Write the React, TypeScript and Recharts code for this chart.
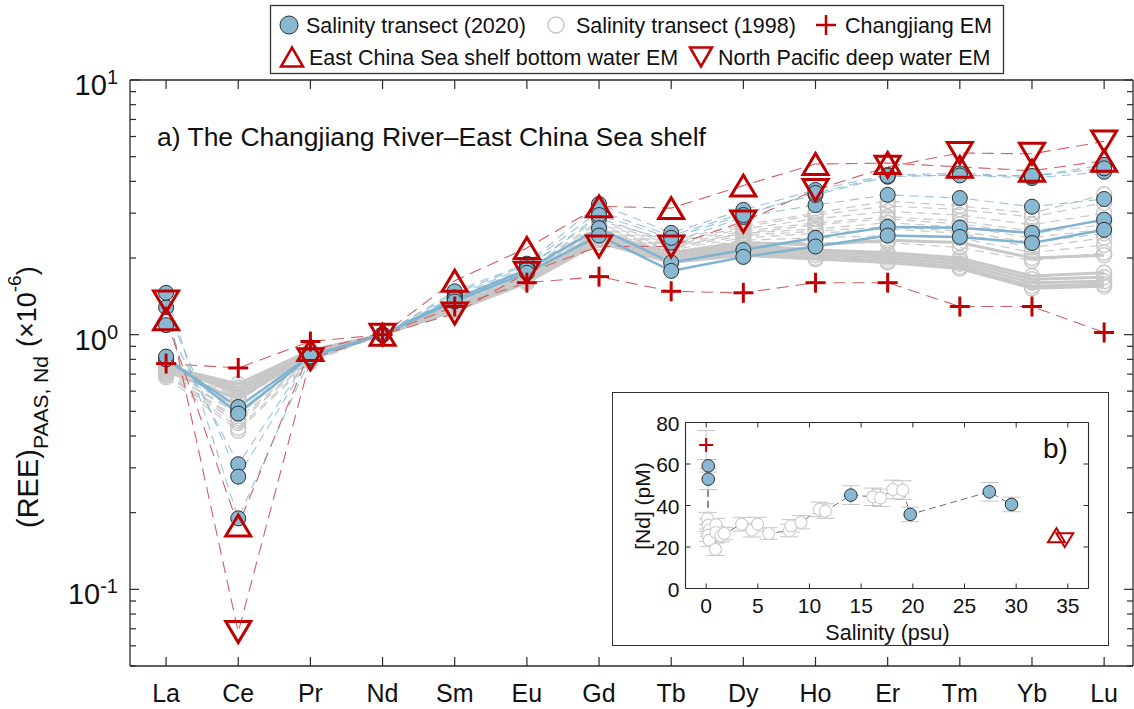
import React from 'react';
import { ComposedChart, Line, Scatter, XAxis, YAxis, ErrorBar } from 'recharts';

const FONT = '"Liberation Sans", Arial, Helvetica, sans-serif';
const AX = '#2a2a2a';
const RED = '#c00000';
const RED_LINE = '#d06060';
const BLUE_FILL = '#88b8d2';
const BLUE_LINE = '#7fb3d0';
const GRAY = '#c8c8c8';

// ---------- panel a: PAAS-normalised REE patterns (normalised to Nd) ----------
const elements = ['La', 'Ce', 'Pr', 'Nd', 'Sm', 'Eu', 'Gd', 'Tb', 'Dy', 'Ho', 'Er', 'Tm', 'Yb', 'Lu'];
const elementTicks = [1, 2, 3, 4, 5, 6, 7, 8, 9, 10, 11, 12, 13, 14];

// end-members
const changjiangEM = [0.77, 0.74, 0.94, 1, 1.29, 1.6, 1.69, 1.48, 1.46, 1.6, 1.6, 1.29, 1.29, 1.02];
const ecsBottomEM = [1.15, 0.178, 0.87, 1, 1.63, 2.19, 3.19, 3.14, 3.85, 4.68, 4.72, 4.56, 4.4, 4.82];
const npDeepEM = [1.35, 0.068, 0.8, 1, 1.21, 1.75, 2.22, 2.22, 2.78, 3.7, 4.56, 5.17, 5.13, 5.74];

// 2020 salinity transect (solid = low-salinity stations, dashed = shelf stations)
const t2020Solid = [
  [0.8, 0.52, 0.83, 1, 1.38, 1.8, 2.62, 1.92, 2.15, 2.4, 2.65, 2.63, 2.51, 2.83],
  [0.82, 0.49, 0.82, 1, 1.35, 1.75, 2.45, 1.78, 2.02, 2.22, 2.45, 2.42, 2.29, 2.58],
];
const t2020Dashed = [
  [1.09, 0.31, 0.83, 1, 1.42, 1.85, 2.87, 2.3, 2.9, 3.23, 3.54, 3.44, 3.18, 3.41],
  [1.28, 0.277, 0.82, 1, 1.45, 1.88, 3.05, 2.45, 3.0, 3.54, 4.17, 4.24, 4.12, 4.36],
  [1.46, 0.19, 0.81, 1, 1.48, 1.9, 3.26, 2.51, 3.09, 3.7, 4.24, 4.3, 4.18, 4.64],
  [0.8, 0.5, 0.82, 1, 1.4, 1.82, 2.95, 2.4, 2.95, 3.6, 4.2, 4.22, 4.2, 4.5],
];

// 1998 salinity transect
const t1998Solid = [
  [0.76, 0.62, 0.86, 1, 1.25, 1.62, 2.35, 1.95, 2.1, 2.0, 1.95, 1.85, 1.55, 1.58],
  [0.74, 0.6, 0.85, 1, 1.27, 1.65, 2.4, 2.0, 2.15, 2.05, 2.0, 1.9, 1.6, 1.62],
  [0.75, 0.64, 0.87, 1, 1.24, 1.6, 2.3, 1.92, 2.05, 1.98, 1.92, 1.82, 1.52, 1.55],
  [0.77, 0.58, 0.84, 1, 1.28, 1.66, 2.45, 2.02, 2.2, 2.1, 2.05, 1.95, 1.65, 1.68],
  [0.73, 0.61, 0.85, 1, 1.26, 1.64, 2.38, 2.05, 2.25, 2.15, 2.1, 2.0, 1.7, 1.75],
  [0.72, 0.56, 0.83, 1, 1.3, 1.7, 2.5, 2.1, 2.3, 2.25, 2.35, 2.3, 2.0, 2.05],
];
const t1998Dashed = [
  [0.72, 0.52, 0.82, 1, 1.3, 1.7, 2.55, 2.15, 2.4, 2.5, 2.6, 2.5, 2.2, 2.4],
  [0.71, 0.5, 0.81, 1, 1.32, 1.72, 2.6, 2.2, 2.5, 2.6, 2.75, 2.65, 2.4, 2.6],
  [0.7, 0.47, 0.8, 1, 1.33, 1.75, 2.65, 2.25, 2.55, 2.75, 2.9, 2.8, 2.55, 2.8],
  [0.69, 0.45, 0.8, 1, 1.35, 1.75, 2.7, 2.28, 2.6, 2.85, 3.05, 2.95, 2.7, 3.0],
  [0.7, 0.43, 0.79, 1, 1.36, 1.78, 2.75, 2.3, 2.65, 2.95, 3.2, 3.1, 2.9, 3.3],
  [0.68, 0.42, 0.78, 1, 1.38, 1.8, 2.8, 2.35, 2.7, 3.0, 3.35, 3.2, 3.0, 3.55],
  [0.73, 0.55, 0.83, 1, 1.29, 1.68, 2.5, 2.1, 2.35, 2.4, 2.45, 2.4, 2.1, 2.25],
  [0.74, 0.57, 0.84, 1, 1.28, 1.66, 2.45, 2.08, 2.3, 2.3, 2.3, 2.2, 1.95, 2.1],
  [0.71, 0.49, 0.8, 1, 1.31, 1.7, 2.55, 2.18, 2.45, 2.55, 2.65, 2.55, 2.3, 2.5],
  [0.7, 0.46, 0.79, 1, 1.34, 1.74, 2.62, 2.22, 2.5, 2.7, 2.85, 2.72, 2.5, 2.7],
];

const logTicks = [
  0.05, 0.06, 0.07, 0.08, 0.09,
  0.1, 0.2, 0.3, 0.4, 0.5, 0.6, 0.7, 0.8, 0.9,
  1, 2, 3, 4, 5, 6, 7, 8, 9, 10,
];
const majorTicks = [0.1, 1, 10];
const majorLabels = ['-1', '0', '1'];

// ---------- panel b: dissolved Nd vs salinity ----------
const nd1998Sal = [0.13, 0.2, 0.3, 0.2, 0.3, 0.94, 0.94, 0.9, 1.42, 1.75, 3.43, 4.43, 4.98, 6.05, 8.05, 8.2, 9.18, 10.96, 11.54, 16.13, 16.87, 18.07, 19.03];
const nd1998Val = [33.7, 30.5, 28.1, 25.7, 23.3, 30.8, 27.0, 18.9, 25.4, 26.5, 31.0, 28.1, 31.0, 26.5, 27.9, 30.2, 31.9, 38.1, 37.3, 44.2, 43.7, 47.7, 47.4];
const nd1998Err = [3, 3, 3, 3, 3, 3, 3, 3, 3, 3, 3.3, 3.3, 3.3, 2.8, 3, 3, 3.2, 3.5, 3.5, 4.2, 4.2, 4.5, 4.5];
const nd2020Sal = [0.2, 0.2, 14.0, 19.75, 27.4, 29.55];
const nd2020Val = [59.1, 52.7, 45.0, 35.7, 46.6, 40.5];
const nd2020Err = [3, 5, 4.5, 3.5, 4.5, 3.5];
const ndChangjiang = { s: 0, nd: 69.1, err: 7 };
const ndEcsBottom = { s: 33.9, nd: 25.7, err: 0 };
const ndNpDeep = { s: 34.7, nd: 23.3, err: 0 };

const salTicks = [0, 5, 10, 15, 20, 25, 30, 35];
const ndTicks = [0, 20, 40, 60, 80];

// ---------- table for panel a ----------
const rows = elements.map((el, i) => {
  const r: Record<string, number | string> = { x: elementTicks[i], el };
  t1998Solid.forEach((s, k) => { r[`gs${k}`] = s[i]; });
  t1998Dashed.forEach((s, k) => { r[`gd${k}`] = s[i]; });
  t2020Solid.forEach((s, k) => { r[`bs${k}`] = s[i]; });
  t2020Dashed.forEach((s, k) => { r[`bd${k}`] = s[i]; });
  r.cj = changjiangEM[i];
  r.ecs = ecsBottomEM[i];
  r.npdw = npDeepEM[i];
  return r;
});

// ---------- tables for panel b ----------
const in1998 = nd1998Sal.map((s, i) => ({ s, nd: nd1998Val[i], err: nd1998Err[i] }));
const in2020 = nd2020Sal.map((s, i) => ({ s, nd: nd2020Val[i], err: nd2020Err[i] }));
const inTrend = [...in2020, ...in1998].sort((a, b) => a.s - b.s || b.nd - a.nd);

// ---------- marker shapes ----------
const triUp = (cx: number, cy: number, w: number, h: number) =>
  `${cx - w / 2},${cy + h / 2} ${cx + w / 2},${cy + h / 2} ${cx},${cy - h / 2}`;
const triDown = (cx: number, cy: number, w: number, h: number) =>
  `${cx - w / 2},${cy - h / 2} ${cx + w / 2},${cy - h / 2} ${cx},${cy + h / 2}`;

const BlueDot = (r: number) => (p: any) =>
  p.cx == null ? <g key={`b-${p.dataKey}-${p.index}`} /> : (
    <circle key={`b-${p.dataKey}-${p.index}`} cx={p.cx} cy={p.cy} r={r} fill={BLUE_FILL} stroke="#2e2e2e" strokeWidth={1} />
  );
const GrayDot = (r: number) => (p: any) =>
  p.cx == null ? <g key={`g-${p.dataKey}-${p.index}`} /> : (
    <circle key={`g-${p.dataKey}-${p.index}`} cx={p.cx} cy={p.cy} r={r} fill="none" stroke={GRAY} strokeWidth={1.4} />
  );
const WhiteDot = (r: number) => (p: any) =>
  p.cx == null ? <g /> : <circle cx={p.cx} cy={p.cy} r={r} fill="#fff" stroke="#cfcfcf" strokeWidth={1.2} />;
const PlusDot = (s: number, w: number) => (p: any) =>
  p.cx == null ? <g key={`p-${p.index}`} /> : (
    <g key={`p-${p.dataKey}-${p.index}`}>
      <line x1={p.cx - s} x2={p.cx + s} y1={p.cy} y2={p.cy} stroke={RED} strokeWidth={w} />
      <line x1={p.cx} x2={p.cx} y1={p.cy - s} y2={p.cy + s} stroke={RED} strokeWidth={w} />
    </g>
  );
const UpDot = (w: number, h: number, sw: number) => (p: any) =>
  p.cx == null ? <g key={`u-${p.index}`} /> : (
    <polygon key={`u-${p.dataKey}-${p.index}`} points={triUp(p.cx, p.cy, w, h)} fill="none" stroke={RED} strokeWidth={sw} strokeLinejoin="miter" />
  );
const DownDot = (w: number, h: number, sw: number) => (p: any) =>
  p.cx == null ? <g key={`d-${p.index}`} /> : (
    <polygon key={`d-${p.dataKey}-${p.index}`} points={triDown(p.cx, p.cy, w, h)} fill="none" stroke={RED} strokeWidth={sw} strokeLinejoin="miter" />
  );

// ---------- axis ticks ----------
const isMajor = (v: number) => majorTicks.findIndex((m) => Math.abs(m - v) < 1e-9);

const ElementTick = (p: any) => (
  <g>
    <line x1={p.x} x2={p.x} y1={p.y} y2={p.y - 9} stroke={AX} strokeWidth={1.2} />
    <text x={p.x} y={p.y + 36} textAnchor="middle" fontSize={25} fontFamily={FONT} fill="#111">
      {elements[p.payload.value - 1]}
    </text>
  </g>
);
const TopTick = (p: any) => <line x1={p.x} x2={p.x} y1={p.y} y2={p.y + 9} stroke={AX} strokeWidth={1.2} />;
const LogTickLeft = (p: any) => {
  const m = isMajor(p.payload.value);
  return (
    <g>
      <line x1={p.x} x2={p.x + (m >= 0 ? 9 : 6)} y1={p.y} y2={p.y} stroke={AX} strokeWidth={1.2} />
      {m >= 0 && (
        <text x={p.x - 12} y={p.y + 15} textAnchor="end" fontSize={29} fontFamily={FONT} fill="#111">
          10<tspan fontSize={20} dy={-11}>{majorLabels[m]}</tspan>
        </text>
      )}
    </g>
  );
};
const LogTickRight = (p: any) => {
  const m = isMajor(p.payload.value);
  return <line x1={p.x} x2={p.x - (m >= 0 ? 9 : 6)} y1={p.y} y2={p.y} stroke={AX} strokeWidth={1.2} />;
};

const SalTick = (p: any) => (
  <g>
    <line x1={p.x} x2={p.x} y1={p.y} y2={p.y - 5} stroke={AX} strokeWidth={1} />
    <text x={p.x} y={p.y + 24} textAnchor="middle" fontSize={21} fontFamily={FONT} fill="#111">{p.payload.value}</text>
  </g>
);
const SalTopTick = (p: any) => <line x1={p.x} x2={p.x} y1={p.y} y2={p.y + 5} stroke={AX} strokeWidth={1} />;
const NdTick = (p: any) => (
  <g>
    <line x1={p.x} x2={p.x + 5} y1={p.y} y2={p.y} stroke={AX} strokeWidth={1} />
    <text x={p.x - 6} y={p.y + 8} textAnchor="end" fontSize={21} fontFamily={FONT} fill="#111">{p.payload.value}</text>
  </g>
);
const NdRightTick = (p: any) => <line x1={p.x} x2={p.x - 5} y1={p.y} y2={p.y} stroke={AX} strokeWidth={1} />;

const axisLine = { stroke: AX, strokeWidth: 1.3 };

export default function App() {
  return (
    <div style={{ position: 'absolute', left: 0, top: 0, width: 1134, height: 709, overflow: 'hidden', background: '#fff' }}>
      {/* panel a */}
      <div style={{ position: 'absolute', left: 0, top: 0 }}>
        <ComposedChart width={1134} height={709} data={rows} margin={{ top: 79, right: 0, bottom: 3, left: 70 }}>
          <XAxis dataKey="x" type="number" domain={[0.5, 14.4]} ticks={elementTicks} interval={0} allowDataOverflow
            tickSize={0} tickMargin={0} tickLine={false} axisLine={axisLine} height={40} tick={<ElementTick />} />
          <XAxis xAxisId="top" orientation="top" dataKey="x" type="number" domain={[0.5, 14.4]} ticks={elementTicks} interval={0}
            allowDataOverflow tickSize={0} tickMargin={0} tickLine={false} axisLine={axisLine} height={1} tick={<TopTick />} />
          <YAxis type="number" scale="log" domain={[0.05, 10]} ticks={logTicks} interval={0} allowDataOverflow
            tickSize={0} tickMargin={0} tickLine={false} axisLine={axisLine} width={60} tick={<LogTickLeft />} />
          <YAxis yAxisId="right" orientation="right" type="number" scale="log" domain={[0.05, 10]} ticks={logTicks} interval={0}
            allowDataOverflow tickSize={0} tickMargin={0} tickLine={false} axisLine={axisLine} width={1} tick={<LogTickRight />} />

          {t1998Dashed.map((_, k) => (
            <Line key={`gd${k}`} dataKey={`gd${k}`} type="linear" stroke={GRAY} strokeWidth={1.2} strokeDasharray="9 6"
              dot={GrayDot(7.5)} activeDot={false} isAnimationActive={false} />
          ))}
          {t1998Solid.map((_, k) => (
            <Line key={`gs${k}`} dataKey={`gs${k}`} type="linear" stroke={GRAY} strokeWidth={3} dot={GrayDot(7.5)}
              activeDot={false} isAnimationActive={false} />
          ))}

          {/* end-member mixing envelopes */}
          {['cj', 'ecs', 'npdw'].map((k) => (
            <Line key={`l-${k}`} dataKey={k} type="linear" stroke={RED_LINE} strokeWidth={1.1} strokeDasharray="12 7"
              dot={false} activeDot={false} isAnimationActive={false} />
          ))}

          {t2020Dashed.map((_, k) => (
            <Line key={`bd${k}`} dataKey={`bd${k}`} type="linear" stroke={BLUE_LINE} strokeOpacity={0.8} strokeWidth={1.1}
              strokeDasharray="9 6" dot={BlueDot(7.5)} activeDot={false} isAnimationActive={false} />
          ))}
          {t2020Solid.map((_, k) => (
            <Line key={`bs${k}`} dataKey={`bs${k}`} type="linear" stroke={BLUE_LINE} strokeWidth={2.5} dot={BlueDot(7.5)}
              activeDot={false} isAnimationActive={false} />
          ))}

          <Line dataKey="cj" stroke="none" dot={PlusDot(10, 3)} activeDot={false} isAnimationActive={false} />
          <Line dataKey="ecs" stroke="none" dot={UpDot(25, 21, 3)} activeDot={false} isAnimationActive={false} />
          <Line dataKey="npdw" stroke="none" dot={DownDot(25, 21, 3)} activeDot={false} isAnimationActive={false} />
        </ComposedChart>
      </div>

      {/* panel b */}
      <div style={{ position: 'absolute', left: 612, top: 392, width: 495, height: 252, border: '1.5px solid #333', background: '#fff' }}>
        <ComposedChart width={495} height={252} margin={{ top: 28.5, right: 18.5, bottom: 26.5, left: 32.5 }}>
          <XAxis dataKey="s" type="number" domain={[-2, 37]} ticks={salTicks} interval={0} allowDataOverflow
            tickSize={0} tickMargin={0} tickLine={false} axisLine={{ stroke: AX, strokeWidth: 1.1 }} height={30} tick={<SalTick />} />
          <XAxis xAxisId="top" orientation="top" dataKey="s" type="number" domain={[-2, 37]} ticks={salTicks} interval={0}
            allowDataOverflow tickSize={0} tickMargin={0} tickLine={false} axisLine={{ stroke: AX, strokeWidth: 1.1 }} height={1} tick={<SalTopTick />} />
          <YAxis dataKey="nd" type="number" domain={[0, 80]} ticks={ndTicks} interval={0} allowDataOverflow
            tickSize={0} tickMargin={0} tickLine={false} axisLine={{ stroke: AX, strokeWidth: 1.1 }} width={40} tick={<NdTick />} />
          <YAxis yAxisId="right" orientation="right" dataKey="nd" type="number" domain={[0, 80]} ticks={ndTicks} interval={0}
            allowDataOverflow tickSize={0} tickMargin={0} tickLine={false} axisLine={{ stroke: AX, strokeWidth: 1.1 }} width={1} tick={<NdRightTick />} />

          <Line data={inTrend} dataKey="nd" type="linear" stroke="#707070" strokeWidth={1} strokeDasharray="7 4"
            dot={false} activeDot={false} isAnimationActive={false} />
          <Scatter data={in1998} dataKey="nd" shape={WhiteDot(6)} isAnimationActive={false}>
            <ErrorBar dataKey="err" direction="y" width={9} stroke="#c4c4c4" strokeWidth={1} />
          </Scatter>
          <Scatter data={in2020} dataKey="nd" shape={(p: any) => <circle cx={p.cx} cy={p.cy} r={6.3} fill={BLUE_FILL} stroke="#2e2e2e" strokeWidth={1} />} isAnimationActive={false}>
            <ErrorBar dataKey="err" direction="y" width={9} stroke="#c4c4c4" strokeWidth={1} />
          </Scatter>
          <Scatter data={[ndChangjiang]} dataKey="nd" shape={(p: any) => PlusDot(7, 2)(p)} isAnimationActive={false}>
            <ErrorBar dataKey="err" direction="y" width={9} stroke="#c4c4c4" strokeWidth={1} />
          </Scatter>
          <Scatter data={[ndEcsBottom]} dataKey="nd" shape={(p: any) => UpDot(17, 14, 2)(p)} isAnimationActive={false} />
          <Scatter data={[ndNpDeep]} dataKey="nd" shape={(p: any) => DownDot(17, 14, 2)(p)} isAnimationActive={false} />
        </ComposedChart>
      </div>

      {/* text layer: legend, panel titles and axis titles */}
      <svg width={1134} height={709} style={{ position: 'absolute', left: 0, top: 0, pointerEvents: 'none' }} fontFamily={FONT}>
        <rect x={270.5} y={5.5} width={733} height={68} fill="#fff" stroke="#333" strokeWidth={1.3} />
        <circle cx={289} cy={25} r={9} fill={BLUE_FILL} stroke="#2e2e2e" strokeWidth={1} />
        <text x={306} y={32.5} fontSize={21.5} fill="#111">Salinity transect (2020)</text>
        <circle cx={556} cy={25} r={8} fill="#fff" stroke="#c8c8c8" strokeWidth={1.5} />
        <text x={576} y={32.5} fontSize={21.5} fill="#111">Salinity transect (1998)</text>
        <line x1={816} x2={836} y1={25} y2={25} stroke={RED} strokeWidth={2.5} />
        <line x1={826} x2={826} y1={15} y2={35} stroke={RED} strokeWidth={2.5} />
        <text x={845} y={32.5} fontSize={21.5} fill="#111">Changjiang EM</text>
        <polygon points={triUp(292, 57, 22, 19)} fill="none" stroke={RED} strokeWidth={2.5} />
        <text x={309} y={65} fontSize={21.5} fill="#111">East China Sea shelf bottom water EM</text>
        <polygon points={triDown(701, 57, 22, 19)} fill="none" stroke={RED} strokeWidth={2.5} />
        <text x={718} y={65} fontSize={21.5} fill="#111">North Pacific deep water EM</text>

        <text x={157} y={146} fontSize={26.5} fill="#111">a) The Changjiang River–East China Sea shelf</text>

        <text transform="rotate(-90)" x={-528} y={38} fontSize={29} fill="#111">
          (REE)<tspan fontSize={21} dy={10}>PAAS, Nd</tspan>
          <tspan fontSize={27} dy={-12} dx={9}>(×10</tspan>
          <tspan fontSize={19} dy={-15}>-6</tspan>
          <tspan fontSize={27} dy={15}>)</tspan>
        </text>

        <text x={1043} y={458} fontSize={28} fill="#111">b)</text>
        <text x={887.5} y={640} textAnchor="middle" fontSize={21.5} fill="#111">Salinity (psu)</text>
        <text transform="rotate(-90)" x={-506} y={650} textAnchor="middle" fontSize={21} fill="#111">[Nd] (pM)</text>
      </svg>
    </div>
  );
}
